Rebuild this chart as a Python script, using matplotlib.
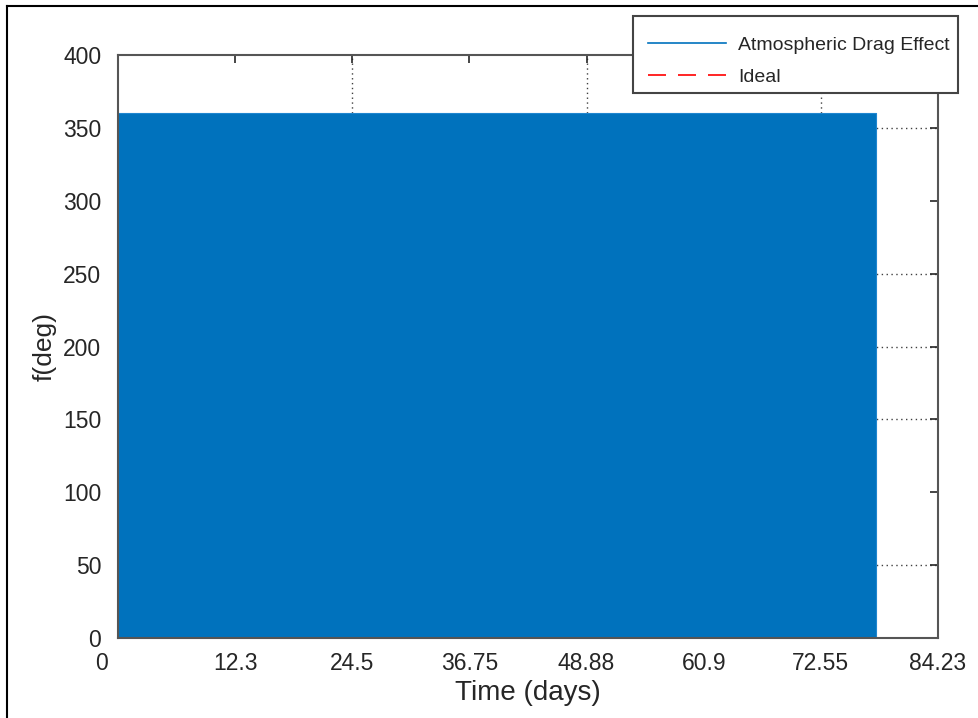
import matplotlib
matplotlib.use("Agg")
import matplotlib.pyplot as plt
import matplotlib.transforms as mtransforms
from matplotlib.lines import Line2D
from matplotlib.patches import Rectangle

# ---- data ----
# The true-anomaly trace oscillates 0..360 deg so densely that it renders
# as a solid band; it is represented here by its envelope.
t_days = [0.0, 77.86]
f_low = [0.0, 0.0]
f_high = [360.0, 360.0]

x_max = 84.23
xtick_pos = [0.0, 12.033, 24.066, 36.099, 48.131, 60.164, 72.197, 84.23]
xtick_labels = ["0", "12.3", "24.5", "36.75", "48.88", "60.9", "72.55", "84.23"]
ytick_pos = [0, 50, 100, 150, 200, 250, 300, 350, 400]

# grid lines that remain visible in the reference
xgrid_pos = [24.066, 48.131, 72.197]
ygrid_pos = [50, 150, 200, 250, 350]

series_names = ["Atmospheric Drag Effect", "Ideal"]
series_colors = ["#0072BD", "#FF0000"]

# ---- figure ----
plt.rcParams["font.family"] = ["Liberation Sans", "DejaVu Sans"]
W, H = 979, 718
fig = plt.figure(figsize=(W / 100, H / 100), dpi=100)
ax = fig.add_axes([118 / W, 1 - 638 / H, (938 - 118) / W, (638 - 55) / H])

axis_col = "#262626"
grid_col = "#404040"

for gx in xgrid_pos:
    ax.axvline(gx, color=grid_col, lw=1.0, ls=(0, (1, 2.5)), zorder=0.5)
for gy in ygrid_pos:
    ax.axhline(gy, color=grid_col, lw=1.0, ls=(0, (1, 2.5)), zorder=0.5)

ax.fill_between(t_days, f_low, f_high, color=series_colors[0],
                edgecolor="#1f86d0", lw=0.8, zorder=2)

ax.set_xlim(0, x_max)
ax.set_ylim(0, 400)
ax.set_xticks(xtick_pos)
ax.set_xticklabels(xtick_labels)
ax.set_yticks(ytick_pos)

ax.tick_params(direction="in", length=6, width=1.2, color=axis_col,
               labelcolor=axis_col, labelsize=16.5, top=True, right=True)
ax.tick_params(axis="x", pad=10)
ax.tick_params(axis="y", pad=12)
for s in ax.spines.values():
    s.set_color("#555555")
    s.set_linewidth(1.5)
    s.set_zorder(3)

# the "0" x tick label sits left of the axis origin in the reference
lbl0 = ax.get_xticklabels()[0]
lbl0.set_transform(lbl0.get_transform() +
                   mtransforms.ScaledTranslation(-16 / 100, 0, fig.dpi_scale_trans))

ax.set_xlabel("Time (days)", fontsize=20, color=axis_col, labelpad=4)
ax.set_ylabel("f(deg)", fontsize=19, color=axis_col, labelpad=5)

# legend box (MATLAB style, uneven padding)
box = Rectangle((633 / W, 1 - 93 / H), (958 - 633) / W, (93 - 16) / H,
                transform=fig.transFigure, facecolor="white",
                edgecolor="#444444", lw=1.5, zorder=9)
fig.add_artist(box)

handles = [Line2D([], [], color=series_colors[0], lw=1.2),
           Line2D([], [], color=series_colors[1], lw=1.2, ls=(0, (10.8, 7.2)))]
leg = fig.legend(handles, series_names, loc="center left",
                 bbox_to_anchor=(648 / W, 1 - 61 / H), fontsize=14,
                 frameon=False, handlelength=4.0, handletextpad=0.65,
                 borderpad=0, labelspacing=0.72, borderaxespad=0)
leg.set_zorder(10)
for t in leg.get_texts():
    t.set_color(axis_col)

# page frame visible on the left and top of the screenshot
fig.add_artist(Line2D([7 / W, 7 / W], [0, 1 - 6 / H], transform=fig.transFigure,
                      color="black", lw=1.5))
fig.add_artist(Line2D([7 / W, 1], [1 - 6 / H, 1 - 6 / H], transform=fig.transFigure,
                      color="black", lw=1.5))

fig.savefig("out.png", dpi=100)
